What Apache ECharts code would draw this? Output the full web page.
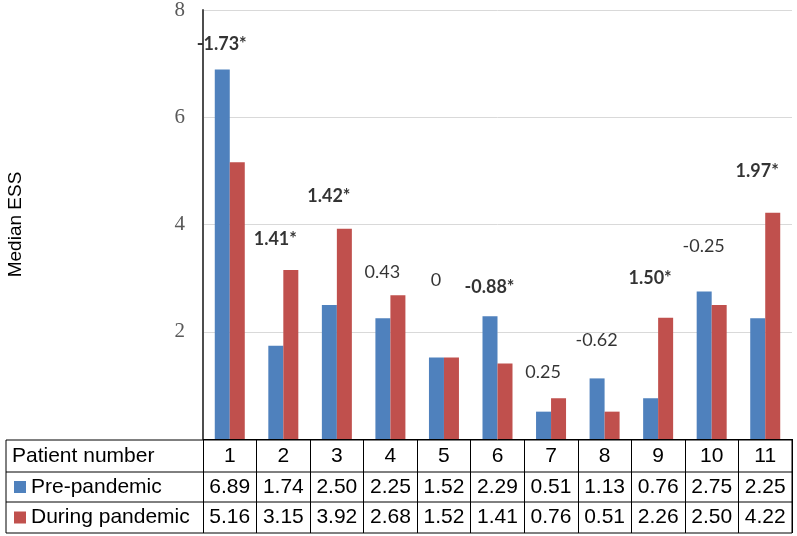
<!DOCTYPE html>
<html>
<head>
<meta charset="utf-8">
<script src="https://cdn.jsdelivr.net/npm/echarts@6/dist/echarts.min.js"></script>
<style>html,body{margin:0;padding:0;background:#fff}#c{width:797px;height:536px}</style>
</head>
<body>
<div id="c"></div>
<script>
const patients = ['1','2','3','4','5','6','7','8','9','10','11'];
const prePandemic = [6.89,1.74,2.50,2.25,1.52,2.29,0.51,1.13,0.76,2.75,2.25];
const duringPandemic = [5.16,3.15,3.92,2.68,1.52,1.41,0.76,0.51,2.26,2.50,4.22];
const diffLabels = ['-1.73*','1.41*','1.42*','0.43','0','-0.88*','0.25','-0.62','1.50*','-0.25','1.97*'];
const diffLabelY = [7.36,3.72,4.52,3.12,2.97,2.84,1.25,1.85,2.99,3.59,4.99];
const yTicks = [0,2,4,6,8];

const BLUE = '#4F81BD', RED = '#C0504D';
const W = 797, H = 536;
const gridLeft = 203, gridRight = 5, gridTop = 10, gridBottom = 97;
const axisY = H - gridBottom;
const tableLeft = 6, tableRight = W - gridRight;
const rows = [axisY + 1, axisY + 1 + 32, axisY + 1 + 62, axisY + 1 + 93];
const FONT = '"Liberation Sans", Arial, sans-serif';
const LFONT = 'Lato, "Open Sans", sans-serif';

const chart = echarts.init(document.getElementById('c'), null, {renderer: 'canvas'});

const graphics = [];
rows.forEach(y => graphics.push({type:'line', shape:{x1:tableLeft, y1:y, x2:tableRight, y2:y}, style:{stroke:'#000', lineWidth:1}}));
graphics.push({type:'line', shape:{x1:tableLeft, y1:rows[0], x2:tableLeft, y2:rows[3]}, style:{stroke:'#000', lineWidth:1}});
graphics.push({type:'line', shape:{x1:tableRight, y1:rows[0], x2:tableRight, y2:rows[3]}, style:{stroke:'#000', lineWidth:1}});
graphics.push({type:'text', x:12, y:(rows[0]+rows[1])/2, style:{text:'Patient number', font:'21px ' + FONT, fill:'#000', verticalAlign:'middle'}});
graphics.push({type:'rect', shape:{x:14, y:(rows[1]+rows[2])/2 - 6, width:12, height:12}, style:{fill:BLUE}});
graphics.push({type:'text', x:31, y:(rows[1]+rows[2])/2, style:{text:'Pre-pandemic', font:'21px ' + FONT, fill:'#000', verticalAlign:'middle'}});
graphics.push({type:'rect', shape:{x:14, y:(rows[2]+rows[3])/2 - 6, width:12, height:12}, style:{fill:RED}});
graphics.push({type:'text', x:31, y:(rows[2]+rows[3])/2, style:{text:'During pandemic', font:'21px ' + FONT, fill:'#000', verticalAlign:'middle'}});

const option = {
  animation: false,
  backgroundColor: '#fff',
  grid: {left: gridLeft, right: gridRight, top: gridTop, bottom: gridBottom, containLabel: false, outerBoundsMode: 'none'},
  xAxis: {
    type: 'category',
    data: patients,
    boundaryGap: true,
    axisLine: {show: true, lineStyle: {color: '#000', width: 1}},
    axisTick: {show: true, interval: 0, length: rows[3] - axisY, lineStyle: {color: '#000', width: 1}},
    axisLabel: {
      interval: 0,
      margin: 1,
      formatter: (v, i) => `{a|${v}}\n{b|${prePandemic[i].toFixed(2)}}\n{c|${duringPandemic[i].toFixed(2)}}`,
      rich: {
        a: {fontSize: 21, fontFamily: FONT, color: '#000', height: 32, lineHeight: 32, align: 'center'},
        b: {fontSize: 21, fontFamily: FONT, color: '#000', height: 30, lineHeight: 30, align: 'center'},
        c: {fontSize: 21, fontFamily: FONT, color: '#000', height: 31, lineHeight: 31, align: 'center'}
      }
    },
    splitLine: {show: false}
  },
  yAxis: {
    type: 'value',
    min: yTicks[0], max: yTicks[yTicks.length - 1], interval: 2,
    name: 'Median ESS',
    nameLocation: 'middle',
    nameGap: 178,
    nameRotate: 90,
    nameTextStyle: {fontSize: 19, fontFamily: FONT, color: '#000'},
    axisLine: {show: true, lineStyle: {color: '#4d4d4d', width: 2}},
    axisTick: {show: false},
    axisLabel: {
      margin: 18,
      showMinLabel: false,
      fontSize: 21,
      fontFamily: '"Liberation Serif", "Times New Roman", serif',
      color: '#595959',
      formatter: v => v === 0 ? '' : String(v)
    },
    splitLine: {show: true, lineStyle: {color: '#D9D9D9', width: 1}}
  },
  series: [
    {name: 'Pre-pandemic', type: 'bar', data: prePandemic, barWidth: 15, barGap: '0%',
     itemStyle: {color: BLUE}},
    {name: 'During pandemic', type: 'bar', data: duringPandemic, barWidth: 15, barGap: '0%',
     itemStyle: {color: RED}},
    {name: 'diff', type: 'scatter', symbolSize: 0, silent: true, z: 5,
     data: patients.map((p, i) => [p, diffLabelY[i]]),
     label: {
       show: true, position: 'inside', offset: [-8, 0],
       formatter: p => {
         const t = diffLabels[p.dataIndex];
         return t.indexOf('*') >= 0 ? `{s|${t}}` : `{n|${t}}`;
       },
       rich: {
         s: {fontSize: 18, fontWeight: 'bold', fontFamily: LFONT, color: '#000'},
         n: {fontSize: 18, fontFamily: LFONT, color: '#000'}
       }
     }}
  ],
  graphic: graphics
};
chart.setOption(option);
</script>
</body>
</html>
